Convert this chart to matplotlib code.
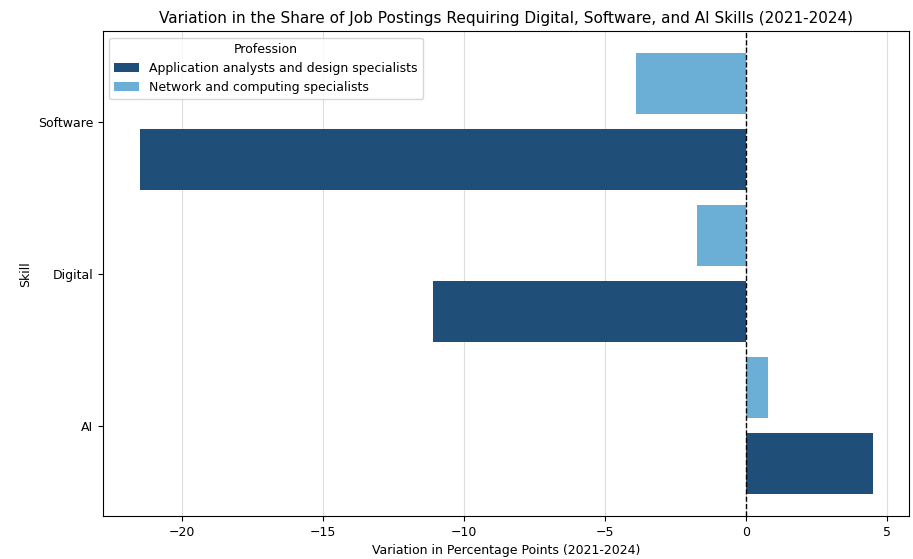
import matplotlib
matplotlib.use("Agg")

import matplotlib.pyplot as plt
import numpy as np

# skill categories, bottom to top
skills = ["AI", "Digital", "Software"]

# change in share of postings, percentage points (2021-2024)
app_analysts = [4.5, -11.1, -21.5]
network_specialists = [0.8, -1.75, -3.9]

professions = ["Application analysts and design specialists",
               "Network and computing specialists"]
colors = ["#1f4e79", "#6baed6"]

fig, ax = plt.subplots(figsize=(9.13, 5.59), dpi=100)
fig.subplots_adjust(left=0.113, right=0.996, top=0.944, bottom=0.077)

y = np.arange(len(skills))
h = 0.4

ax.barh(y - 0.25, app_analysts, height=h, color=colors[0], label=professions[0])
ax.barh(y + 0.25, network_specialists, height=h, color=colors[1], label=professions[1])

ax.axvline(0, color="black", linestyle="--", linewidth=1)

ax.set_yticks(y)
ax.set_yticklabels(skills, fontsize=9)
ax.tick_params(axis="x", labelsize=9)
ax.grid(axis="x", color="#dddddd", linewidth=0.8)
ax.set_axisbelow(True)

ax.set_xlabel("Variation in Percentage Points (2021-2024)", fontsize=9)
ax.set_ylabel("Skill", fontsize=9)
ax.set_title("Variation in the Share of Job Postings Requiring Digital, Software, and AI Skills (2021-2024)",
             fontsize=11)

ax.legend(title="Profession", loc="upper left", fontsize=9, title_fontsize=9)

plt.savefig("out.png", dpi=100)
plt.close()
